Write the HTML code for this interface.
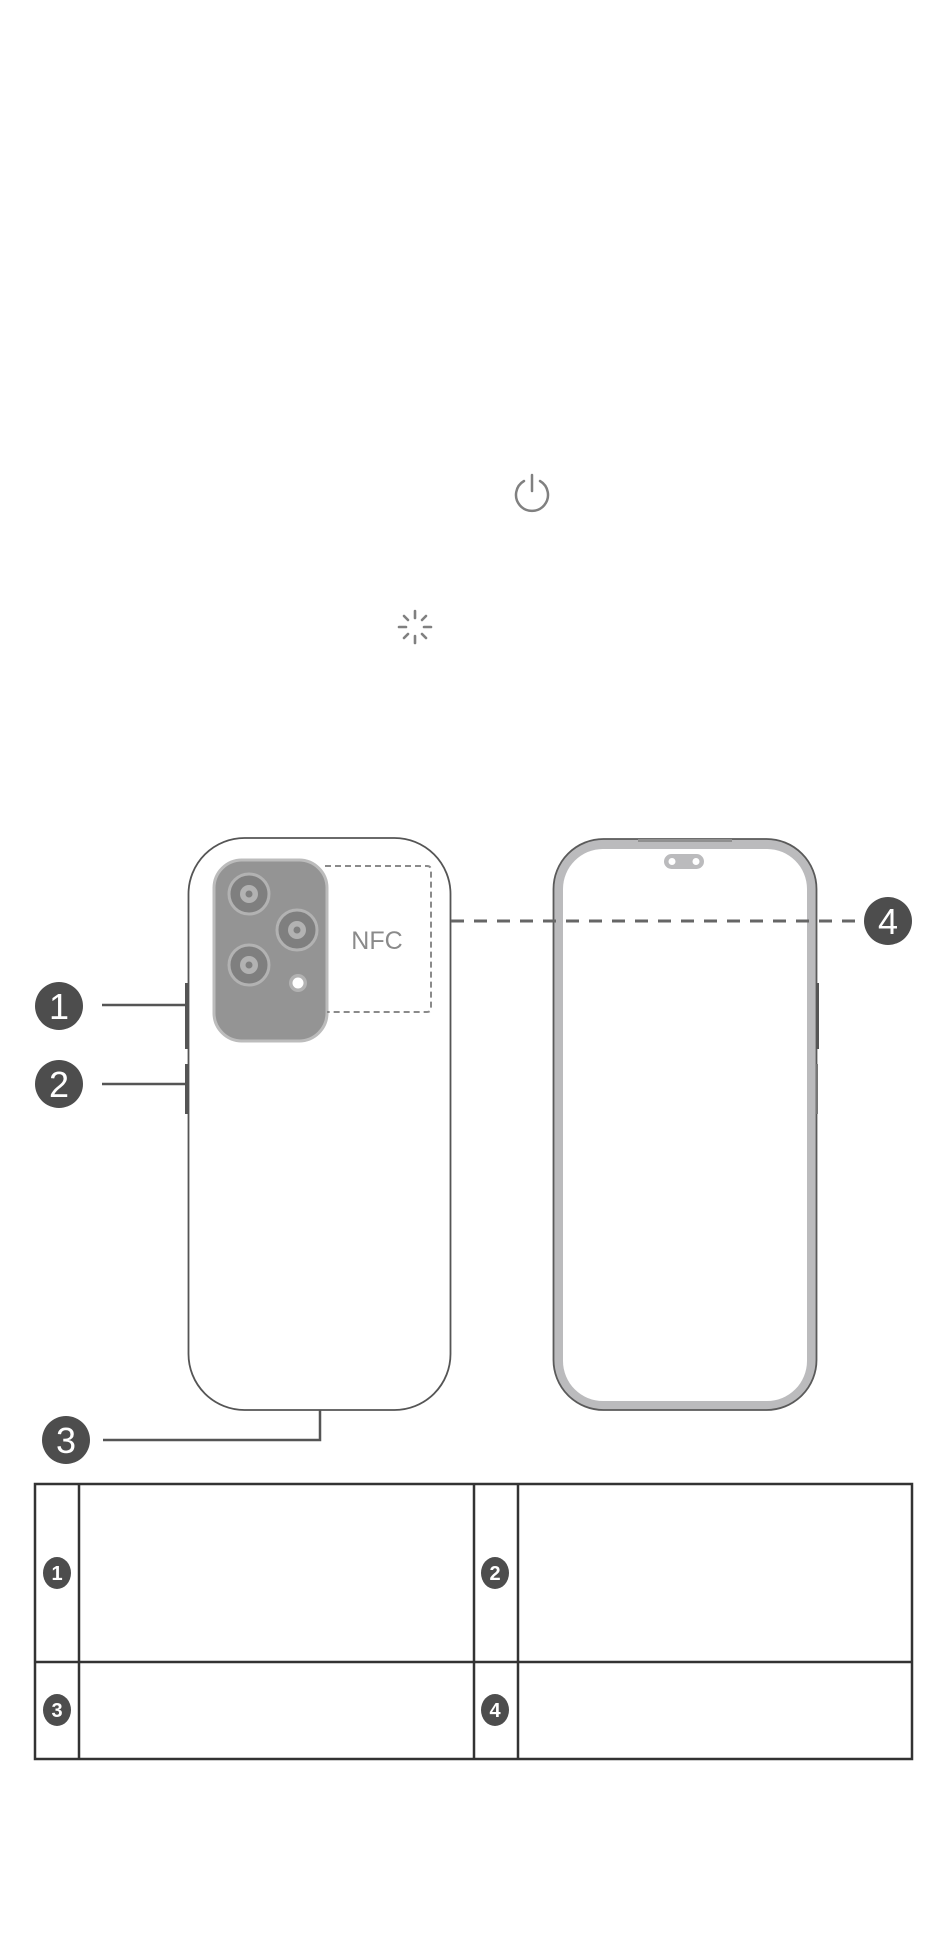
<!DOCTYPE html>
<html><head><meta charset="utf-8"><style>
html,body{margin:0;padding:0;background:#fff;}
svg{display:block;}
text{font-family:"Liberation Sans",sans-serif;}
</style></head><body>
<svg width="950" height="1946" viewBox="0 0 950 1946" xmlns="http://www.w3.org/2000/svg">
<!-- power icon -->
<g stroke="#808080" stroke-width="2.5" fill="none" stroke-linecap="round">
<path d="M524 481 A16 16 0 1 0 540 481"/>
<line x1="532" y1="475" x2="532" y2="491"/>
</g>
<!-- spinner -->
<g stroke="#808080" stroke-width="2.6" stroke-linecap="round">
<line x1="415" y1="611" x2="415" y2="618"/>
<line x1="415" y1="636" x2="415" y2="643"/>
<line x1="399" y1="627" x2="406" y2="627"/>
<line x1="424" y1="627" x2="431" y2="627"/>
<line x1="404" y1="616" x2="408" y2="620"/>
<line x1="422" y1="634" x2="426" y2="638"/>
<line x1="404" y1="638" x2="408" y2="634"/>
<line x1="422" y1="620" x2="426" y2="616"/>
</g>
<!-- back phone -->
<rect x="188.5" y="838" width="262" height="572" rx="56" fill="#fff" stroke="#555" stroke-width="1.8"/>
<rect x="185" y="983" width="3" height="66" fill="#555"/>
<rect x="185" y="1064" width="3" height="50" fill="#555"/>
<rect x="214" y="860" width="113" height="181" rx="28" fill="#949494" stroke="#bcbcbc" stroke-width="3"/>
<g>
<circle cx="249" cy="894" r="20" fill="#7f7f7f" stroke="#b2b2b2" stroke-width="3"/>
<circle cx="249" cy="894" r="9" fill="#b2b2b2"/><circle cx="249" cy="894" r="3.5" fill="#7f7f7f"/>
<circle cx="297" cy="930" r="20" fill="#7f7f7f" stroke="#b2b2b2" stroke-width="3"/>
<circle cx="297" cy="930" r="9" fill="#b2b2b2"/><circle cx="297" cy="930" r="3.5" fill="#7f7f7f"/>
<circle cx="249" cy="965" r="20" fill="#7f7f7f" stroke="#b2b2b2" stroke-width="3"/>
<circle cx="249" cy="965" r="9" fill="#b2b2b2"/><circle cx="249" cy="965" r="3.5" fill="#7f7f7f"/>
<circle cx="298" cy="983" r="9" fill="#b2b2b2"/><circle cx="298" cy="983" r="5.5" fill="#fff"/>
</g>
<path d="M325 866 H427 Q431 866 431 870 V1008 Q431 1012 427 1012 H327" fill="none" stroke="#8a8a8a" stroke-width="2" stroke-dasharray="6 4"/>
<text x="377" y="949" font-size="25" fill="#8a8a8a" text-anchor="middle">NFC</text>
<!-- front phone -->
<rect x="553.5" y="839" width="263" height="571" rx="50" fill="#bbbbbd" stroke="#5a5a5a" stroke-width="1.8"/>
<rect x="563" y="849" width="244" height="552" rx="40" fill="#fff"/>
<rect x="638" y="839" width="94" height="3" fill="#909090"/>
<rect x="664" y="854" width="40" height="15" rx="7.5" fill="#bbbbbd"/>
<circle cx="672" cy="861.5" r="3.5" fill="#fff"/><circle cx="696" cy="861.5" r="3.5" fill="#fff"/>
<rect x="816" y="983" width="3" height="66" fill="#555"/>
<rect x="816" y="1064" width="2" height="50" fill="#777"/>
<!-- connectors -->
<line x1="102" y1="1005" x2="186" y2="1005" stroke="#555" stroke-width="2.5"/>
<line x1="102" y1="1084" x2="186" y2="1084" stroke="#555" stroke-width="2.5"/>
<polyline points="103,1440 320,1440 320,1410" fill="none" stroke="#555" stroke-width="2.5"/>
<line x1="451" y1="921" x2="862" y2="921" stroke="#666" stroke-width="3" stroke-dasharray="13 10"/>
<!-- badges -->
<g fill="#4d4d4d">
<ellipse cx="59" cy="1006" rx="24" ry="24"/>
<ellipse cx="59" cy="1084" rx="24" ry="24"/>
<ellipse cx="66" cy="1440" rx="24" ry="24"/>
<ellipse cx="888" cy="921" rx="24" ry="24"/>
</g>
<g fill="#fff" font-size="36" text-anchor="middle">
<text x="59" y="1019">1</text>
<text x="59" y="1097">2</text>
<text x="66" y="1453">3</text>
<text x="888" y="934">4</text>
</g>
<!-- table -->
<g fill="none" stroke="#333" stroke-width="2.5">
<rect x="35" y="1484" width="877" height="275"/>
<line x1="35" y1="1662" x2="912" y2="1662"/>
<line x1="79" y1="1484" x2="79" y2="1759"/>
<line x1="474" y1="1484" x2="474" y2="1759"/>
<line x1="518" y1="1484" x2="518" y2="1759"/>
</g>
<g fill="#4d4d4d">
<ellipse cx="57" cy="1573" rx="14" ry="16"/>
<ellipse cx="495" cy="1573" rx="14" ry="16"/>
<ellipse cx="57" cy="1710" rx="14" ry="16"/>
<ellipse cx="495" cy="1710" rx="14" ry="16"/>
</g>
<g fill="#fff" font-size="20" font-weight="bold" text-anchor="middle">
<text x="57" y="1580">1</text>
<text x="495" y="1580">2</text>
<text x="57" y="1717">3</text>
<text x="495" y="1717">4</text>
</g>
</svg>
</body></html>
